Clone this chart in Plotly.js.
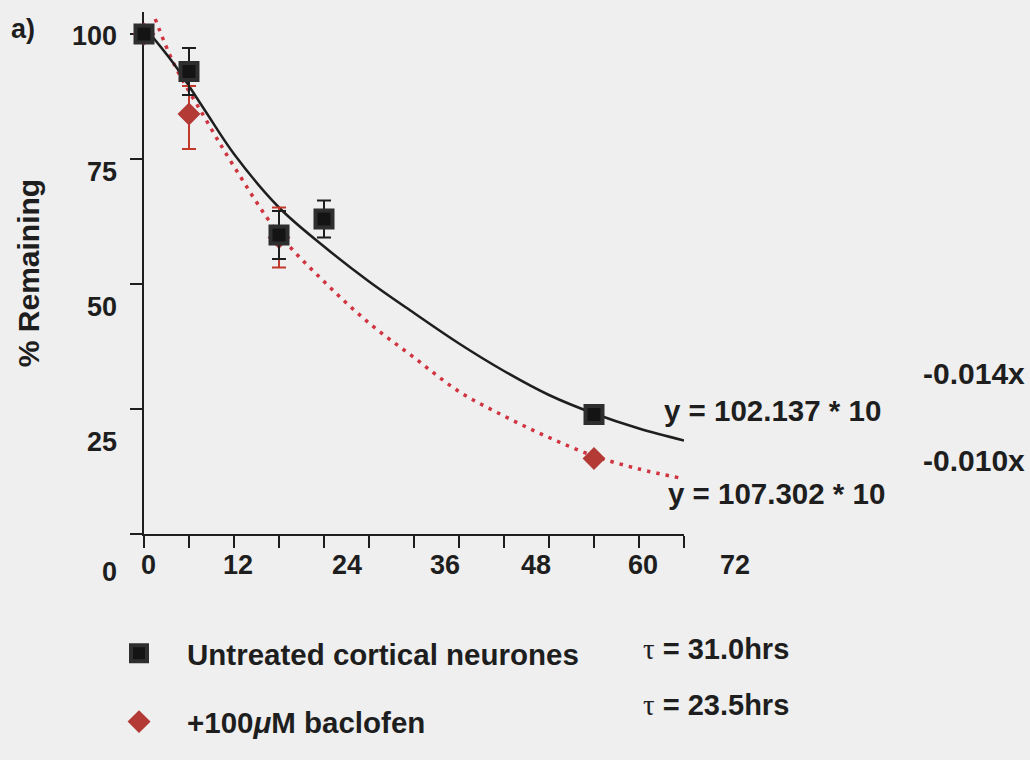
<!DOCTYPE html>
<html>
<head>
<meta charset="utf-8">
<script src="https://cdn.plot.ly/plotly-3.0.1.min.js"></script>
<style>
  html, body { margin: 0; padding: 0; background: #efefef; }
  #chart { width: 1030px; height: 760px; }
</style>
</head>
<body>
<div id="chart"></div>
<script>
// ---- data ----
const untreatedTime = [0, 6, 18, 24, 60];
const untreatedPct = [100, 92.5, 59.8, 63.0, 23.9];
const untreatedErr = [0, 4.7, 4.8, 3.7, 0];

const baclofenTime = [0, 6, 18, 60];
const baclofenPct = [100, 84.0, 59.3, 15.1];
const baclofenErrPlus = [0, 5.6, 6.0, 0];
const baclofenErrMinus = [0, 7.0, 6.0, 0];

// fitted curves
const fitUntreatedX = [0, 4, 8, 12, 18, 24, 30, 36, 42, 48, 54, 60, 66, 72];
const fitUntreatedY = [101.5, 94, 85, 76, 65.3, 57.5, 50.5, 44.2, 38.1, 32.6, 27.8, 24.1, 21.1, 18.7];
const fitBaclofenX = [1.5, 4, 8, 12, 18, 24, 30, 36, 42, 48, 54, 60, 66, 71.5];
const fitBaclofenY = [103, 94, 83.5, 73.5, 60, 50.5, 42.2, 35.3, 28.5, 23.6, 19.3, 15.6, 13, 11.2];

const xTickVals = [0, 6, 12, 18, 24, 30, 36, 42, 48, 54, 60, 66, 72];
const yTickVals = [0, 25, 50, 75, 100];
const xTickLabels = ['0', '12', '24', '36', '48', '60', '72'];
const yTickLabels = ['100', '75', '50', '25', '0'];

const seriesNames = ['Untreated cortical neurones', '+100<i>μ</i>M baclofen'];
const tauLabels = ['31.0hrs', '23.5hrs'];
const equationLines = ['y = 102.137 * 10', 'y = 107.302 * 10'];
const exponentLabels = ['-0.014x', '-0.010x'];

// ---- styling ----
const FONT = '"Liberation Sans", Arial, Helvetica, sans-serif';
const INK = '#1e1e1e';
const RED_LINE = '#cf3440';
const RED_MARK = '#b33a35';

const traces = [
  {
    x: fitBaclofenX, y: fitBaclofenY, mode: 'lines', type: 'scatter',
    line: { color: RED_LINE, width: 3.5, dash: '3.5px,6px', shape: 'spline' },
    showlegend: false, hoverinfo: 'skip', cliponaxis: false
  },
  {
    x: fitUntreatedX, y: fitUntreatedY, mode: 'lines', type: 'scatter',
    line: { color: INK, width: 2.5, shape: 'spline' },
    showlegend: false, hoverinfo: 'skip', cliponaxis: false
  },
  {
    x: baclofenTime, y: baclofenPct, mode: 'markers', type: 'scatter',
    name: seriesNames[1], legendgroup: 'b', legendrank: 2,
    marker: { symbol: 'diamond', size: 16, color: RED_MARK, line: { color: RED_MARK, width: 1.5 } },
    error_y: { type: 'data', symmetric: false, array: baclofenErrPlus, arrayminus: baclofenErrMinus,
               color: '#c0392b', thickness: 2, width: 7 },
    cliponaxis: false
  },
  {
    x: untreatedTime, y: untreatedPct, mode: 'markers', type: 'scatter',
    name: seriesNames[0], legendgroup: 'a', legendrank: 1,
    marker: { symbol: 'square', size: 17, color: '#141414', line: { color: '#2e2e2e', width: 4 } },
    error_y: { type: 'data', array: untreatedErr, color: INK, thickness: 2, width: 7 },
    cliponaxis: false
  }
];

// helpers: plot area is l=144..684 px, t=12..553 px
const L = 144, R = 684, T = 12, B = 553;
const px = v => (v - L) / (R - L);
const py = v => (B - v) / (B - T);

const bold = (size, color) => ({ family: FONT, size: size, color: color || INK, weight: 'bold' });

const annotations = [];
const xLabelPos = [148, 238, 347, 445, 536, 643, 735];
xTickLabels.forEach((t, i) => annotations.push({
  xref: 'paper', yref: 'paper', x: px(xLabelPos[i]), y: py(585),
  xanchor: 'center', yanchor: 'middle', text: t, showarrow: false, font: bold(27)
}));
const yLabelPos = [37, 178, 318, 458, 592];
yTickLabels.forEach((t, i) => annotations.push({
  xref: 'paper', yref: 'paper', x: px(119), y: py(yLabelPos[i]),
  xanchor: 'right', yanchor: 'middle', text: t, showarrow: false, font: bold(27)
}));
annotations.push({ xref: 'paper', yref: 'paper', x: px(9), y: py(30), xanchor: 'left', yanchor: 'middle',
  text: 'a)', showarrow: false, font: bold(27) });
// equations
annotations.push({ xref: 'paper', yref: 'paper', x: px(662), y: py(425), xanchor: 'left', yanchor: 'middle',
  text: equationLines[0], showarrow: false, font: bold(29.5) });
annotations.push({ xref: 'paper', yref: 'paper', x: px(921), y: py(387), xanchor: 'left', yanchor: 'middle',
  text: exponentLabels[0], showarrow: false, font: bold(30) });
annotations.push({ xref: 'paper', yref: 'paper', x: px(666), y: py(511), xanchor: 'left', yanchor: 'middle',
  text: equationLines[1], showarrow: false, font: bold(29.5) });
annotations.push({ xref: 'paper', yref: 'paper', x: px(921), y: py(477), xanchor: 'left', yanchor: 'middle',
  text: exponentLabels[1], showarrow: false, font: bold(30) });
// time constants
const tauY = [672, 730];
tauLabels.forEach((t, i) => annotations.push({
  xref: 'paper', yref: 'paper', x: px(641), y: py(tauY[i]), xanchor: 'left', yanchor: 'middle',
  text: '<span style="font-family:\'Liberation Serif\',serif;font-weight:normal">τ</span> = ' + t,
  showarrow: false, font: bold(29)
}));

const layout = {
  width: 1030, height: 760,
  margin: { l: L, r: 1030 - R, t: T, b: 760 - B, pad: 0 },
  paper_bgcolor: '#efefef', plot_bgcolor: '#efefef',
  font: { family: FONT, color: INK },
  xaxis: {
    range: [0, 72], tickvals: xTickVals, showticklabels: false,
    ticks: 'outside', ticklen: 12, tickwidth: 2, tickcolor: INK,
    showline: true, linewidth: 2, linecolor: INK, showgrid: false, zeroline: false,
    layer: 'below traces', fixedrange: true
  },
  yaxis: {
    range: [0, 104.4], tickvals: yTickVals, showticklabels: false,
    ticks: 'outside', ticklen: 12, tickwidth: 2, tickcolor: INK,
    showline: true, linewidth: 2, linecolor: INK, showgrid: false, zeroline: false,
    layer: 'below traces', fixedrange: true,
    title: { text: '% Remaining', font: bold(30), standoff: 82 }
  },
  showlegend: true,
  legend: {
    x: px(91), y: py(650), xanchor: 'left', yanchor: 'top',
    bgcolor: 'rgba(0,0,0,0)', borderwidth: 0,
    font: bold(29.5), tracegroupgap: 27, traceorder: 'grouped',
    itemsizing: 'trace', itemwidth: 86
  },
  annotations: annotations
};

Plotly.newPlot('chart', traces, layout, { displayModeBar: false, staticPlot: true });
</script>
</body>
</html>
